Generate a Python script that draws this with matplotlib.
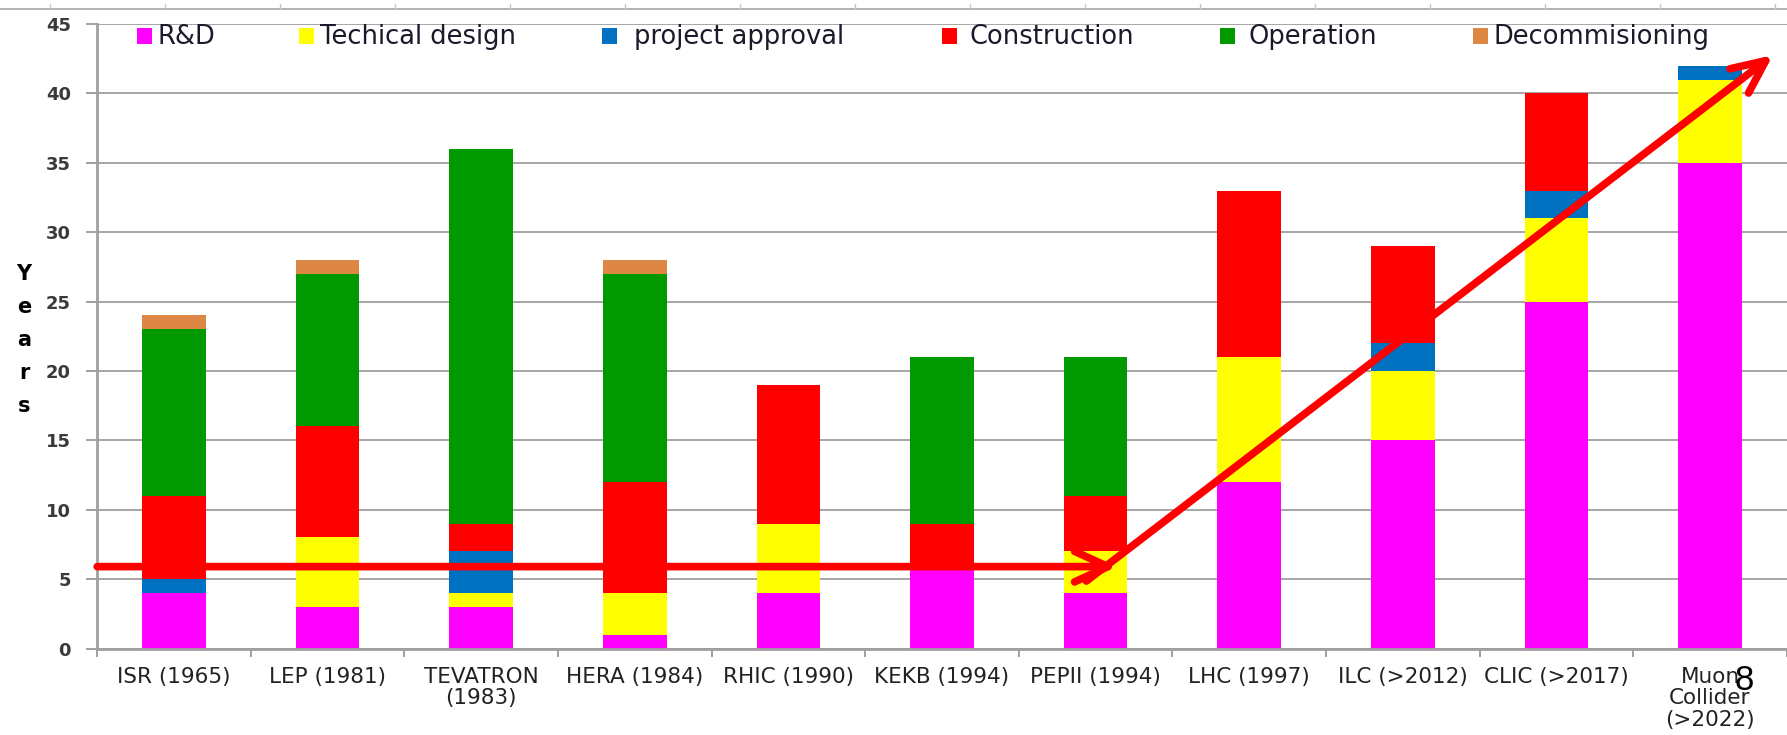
import matplotlib
matplotlib.use("Agg")
import matplotlib.pyplot as plt
from matplotlib.lines import Line2D
from matplotlib.patches import Rectangle
import numpy as np

# ---- data -------------------------------------------------------------
categories = ['ISR (1965)', 'LEP (1981)', 'TEVATRON\n(1983)', 'HERA (1984)',
              'RHIC (1990)', 'KEKB (1994)', 'PEPII (1994)', 'LHC (1997)',
              'ILC (>2012)', 'CLIC (>2017)', 'Muon\nCollider\n(>2022)']
series_names = ['R&D', 'Techical design', 'project approval',
                'Construction', 'Operation', 'Decommisioning']
rnd          = [4, 3, 3, 1, 4, 5.7, 4, 12, 15, 25, 35]
tech_design  = [0, 5, 1, 3, 5, 0, 3, 9, 5, 6, 6]
approval     = [1, 0, 3, 0, 0, 0, 0, 0, 2, 2, 1]
construction = [6, 8, 2, 8, 10, 3.3, 4, 12, 7, 7, 0]
operation    = [12, 11, 27, 15, 0, 12, 10, 0, 0, 0, 0]
decommission = [1, 1, 0, 1, 0, 0, 0, 0, 0, 0, 0]
y_ticks = [0, 5, 10, 15, 20, 25, 30, 35, 40, 45]

colors = ['#FF00FF', '#FFFF00', '#0070C0', '#FF0000', '#009900', '#DE8644']
series = [rnd, tech_design, approval, construction, operation, decommission]

# ---- figure -------------------------------------------------------------
W, H = 1787, 735
fig = plt.figure(figsize=(W / 100, H / 100), dpi=100)
x0, x1, ytop, ybot = 97.2, 1786.8, 24.0, 648.5
ax = fig.add_axes([x0 / W, 1 - ybot / H, (x1 - x0) / W, (ybot - ytop) / H])

x = np.arange(len(categories))
bottom = np.zeros(len(categories))
for vals, col in zip(series, colors):
    v = np.array(vals, dtype=float)
    ax.bar(x, v, width=0.415, bottom=bottom, color=col, zorder=3, linewidth=0)
    bottom += v

ax.set_xlim(-0.5, len(categories) - 0.5)
ax.set_ylim(0, 45)
ax.set_yticks(y_ticks)
ax.set_yticklabels([str(t) for t in y_ticks], fontsize=13, fontweight='bold',
                   color='#3a3a3a', family='DejaVu Sans')
ax.set_xticks(x)
ax.set_xticklabels(categories, fontsize=15.5, color='#222222',
                   family='DejaVu Sans', linespacing=1.12)
ax.tick_params(axis='x', which='major', length=0, pad=13)
ax.set_xticks(np.arange(-0.5, len(categories)), minor=True)
ax.tick_params(axis='x', which='minor', length=6, width=1.4, color='#a0a0a0',
               direction='out')
ax.tick_params(axis='y', length=8, width=1.4, color='#a0a0a0', pad=11,
               direction='out')
ax.yaxis.grid(True, color='#a6a6a6', linewidth=1.4, zorder=0)
ax.set_axisbelow(True)
for s in ['top', 'right']:
    ax.spines[s].set_visible(False)
for s in ['left', 'bottom']:
    ax.spines[s].set_color('#a0a0a0')
    ax.spines[s].set_linewidth(2.0)
    ax.spines[s].set_zorder(4)

# y label stacked letters
for ch, yp in zip('Years', [274, 307, 340, 373, 406]):
    fig.text(24 / W, 1 - yp / H, ch, ha='center', va='center',
             fontsize=15, fontweight='bold', color='black')

# legend (manual, along the top of the plot)
leg_marker_cx = [144, 306, 609, 949, 1227, 1480]
leg_text_x = [158, 320, 634, 970, 1248, 1494]
leg_y = 36
msz = 15
for name, col, mx, tx in zip(series_names, colors, leg_marker_cx, leg_text_x):
    fig.add_artist(Rectangle(((mx - msz / 2) / W, 1 - (leg_y + msz / 2) / H),
                             msz / W, msz / H, transform=fig.transFigure,
                             facecolor=col, edgecolor='none'))
    fig.text(tx / W, 1 - (leg_y + 1) / H, name, ha='left', va='center',
             fontsize=18.5, color='#1a1a2a', family='DejaVu Sans')

# red arrows (annotation)
arrow_kw = dict(arrowstyle='->,head_length=1.2,head_width=0.55', color='#FF0000',
                lw=5.5, mutation_scale=20, shrinkA=0, shrinkB=0,
                capstyle='round', joinstyle='round')
ax.annotate('', xy=(6.14, 5.9), xytext=(-0.5, 5.9), arrowprops=arrow_kw,
            annotation_clip=False, zorder=6)
ax.annotate('', xy=(10.41, 42.76), xytext=(5.94, 4.86), arrowprops=arrow_kw,
            annotation_clip=False, zorder=6)

# top decorative border of the slide
fig.add_artist(Line2D([0, 1], [1 - 9 / H, 1 - 9 / H], transform=fig.transFigure,
                      color='#a6a6a6', lw=1.2))
for tx in np.arange(50, W, 115):
    fig.add_artist(Line2D([tx / W, tx / W], [1 - 9 / H, 1 - 4 / H],
                          transform=fig.transFigure, color='#c8c8c8', lw=1))

# slide number (overlaps the last label in the original slide as well)
fig.text(1744 / W, 1 - 680 / H, '8', ha='center', va='center', fontsize=25,
         family='Liberation Sans', color='black')

fig.savefig('out.png', dpi=100)
